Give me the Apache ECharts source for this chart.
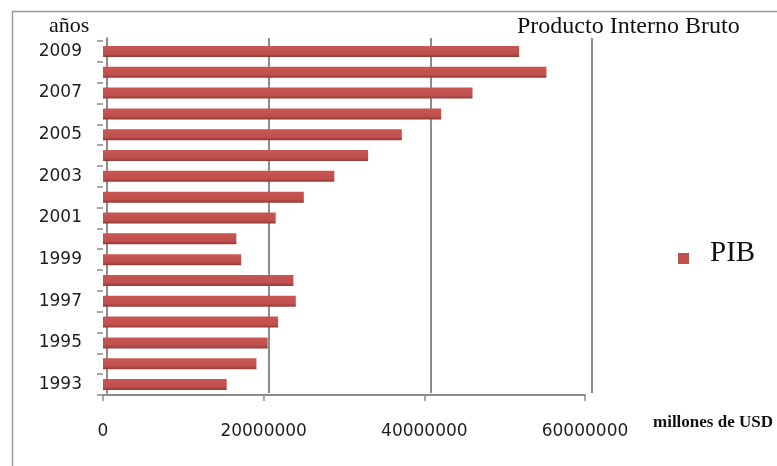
<!DOCTYPE html>
<html><head><meta charset="utf-8">
<script src="https://cdn.jsdelivr.net/npm/echarts@6/dist/echarts.min.js"></script>
<style>html,body{margin:0;padding:0;background:#fff}#c{width:777px;height:466px}</style>
</head><body><div id="c"></div>
<script>
const years = ['1993','1994','1995','1996','1997','1998','1999','2000','2001','2002','2003','2004','2005','2006','2007','2008','2009'];
const pib = [15400000,19100000,20500000,21800000,24000000,23700000,17200000,16600000,21500000,25000000,28800000,33000000,37200000,42100000,46000000,55200000,51800000];
const xMin = 0, xMax = 60000000, xStep = 20000000;
const titleText = 'Producto Interno Bruto';
const yName = 'años';
const xName = 'millones de USD';
const seriesName = 'PIB';

const chart = echarts.init(document.getElementById('c'));
const labelFont = {fontFamily:'DejaVu Sans', fontSize:17, color:'#1e1e1e'};
chart.setOption({
  animation:false,
  backgroundColor:'#fff',
  title:[
    {text:titleText,left:517,top:15,padding:0,textStyle:{fontFamily:'Liberation Serif',fontSize:24,fontWeight:'normal',color:'#111'}},
    {text:yName,left:49,top:15,padding:0,textStyle:{fontFamily:'Liberation Serif',fontSize:22,fontWeight:'normal',color:'#111'}},
    {text:xName,left:653,top:414,padding:0,textStyle:{fontFamily:'Liberation Serif',fontSize:17,fontWeight:'bold',color:'#111'}}
  ],
  legend:{
    data:[seriesName],left:678,top:239,padding:0,
    icon:'rect',itemWidth:11,itemHeight:11,
    itemStyle:{color:'#c0504d',borderWidth:0},
    formatter:n=>'{a|'+n+'}',
    textStyle:{rich:{a:{fontFamily:'Liberation Serif',fontSize:29,lineHeight:30,color:'#111',padding:[0,0,10,16]}}}
  },
  graphic:[{type:'rect',left:10,top:9,shape:{width:800,height:500},style:{fill:'none',stroke:'#9a9a9a',lineWidth:1.5},silent:true,z:-10}],
  grid:[
    {left:103,top:41,width:482,height:354},
    {left:107,top:38,width:485,height:355}
  ],
  xAxis:[
    {type:'value',gridIndex:0,min:xMin,max:xMax,interval:xStep,
     axisLine:{show:true,lineStyle:{color:'#8c8c8c',width:2}},
     axisTick:{show:true,length:6,lineStyle:{color:'#8c8c8c',width:1.5}},
     splitLine:{show:false},
     axisLabel:{margin:28,formatter:v=>String(v),...labelFont}},
    {type:'value',gridIndex:1,min:xMin,max:xMax,interval:xStep,
     axisLine:{show:false},axisTick:{show:false},axisLabel:{show:false},
     splitLine:{show:true,lineStyle:{color:'#8c8c8c',width:2}}}
  ],
  yAxis:[
    {type:'category',gridIndex:0,data:years,
     axisLine:{show:false},
     axisTick:{show:true,length:6,interval:0,lineStyle:{color:'#8c8c8c',width:1.5}},
     axisLabel:{interval:1,margin:21,padding:[5,0,0,0],...labelFont}},
    {type:'category',gridIndex:1,data:years,
     axisLine:{show:true,lineStyle:{color:'#8c8c8c',width:2}},
     axisTick:{show:false},axisLabel:{show:false}}
  ],
  series:[{
    name:seriesName,type:'bar',xAxisIndex:0,yAxisIndex:0,data:pib,barWidth:11,
    itemStyle:{color:new echarts.graphic.LinearGradient(0,0,0,1,[
      {offset:0,color:'#c95754'},{offset:0.7,color:'#c0504d'},{offset:1,color:'#933936'}]),
      borderWidth:0},
    z:3
  }],
  color:['#c0504d']
});
</script></body></html>
